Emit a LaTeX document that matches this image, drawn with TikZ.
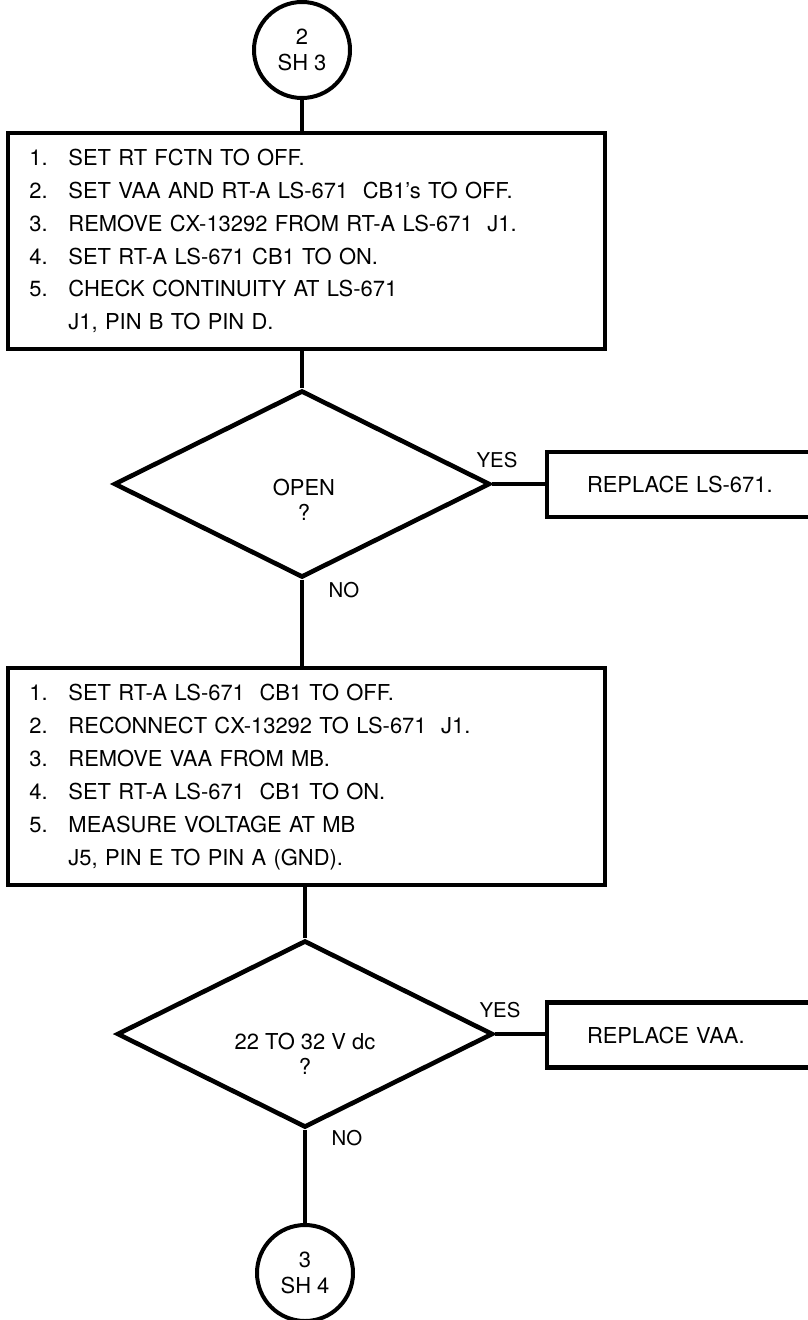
\documentclass[tikz,border=0pt]{standalone}
\usepackage{fontspec}
\setmainfont{TeX Gyre Heros}
\usetikzlibrary{shapes.geometric,calc}
\newcommand\steplist[1]{\begin{tabular}{@{}p{9.75mm}@{}l@{}}#1\end{tabular}}
\tikzset{every picture/.style={line width=1.15mm},
  every node/.style={font=\fontsize{15.6}{23.4}\selectfont},
  conn/.style={draw,circle,minimum size=24mm,inner sep=0pt,line width=1mm,align=center,
    font=\fontsize{15.6}{19}\selectfont},
  stepbox/.style={draw,rectangle,minimum width=149.25mm,text width=138.5mm,inner xsep=5.375mm,align=left},
  decision/.style={draw,diamond,minimum width=94mm,minimum height=46.75mm,inner sep=0pt},
  qtext/.style={align=center,font=\fontsize{15.6}{17.5}\selectfont},
  fixbox/.style={draw,rectangle,minimum width=72mm,minimum height=16.25mm,text width=52mm,
    inner xsep=10mm,align=left},
  answer/.style={font=\fontsize{14.5}{17}\selectfont,inner sep=0pt}}

\begin{document}
\begin{tikzpicture}[x=.25mm,y=-.25mm,line width=1.15mm]
\useasboundingbox (0,0) rectangle (807,1320);
\node[conn](c2)at(302,50){2\\SH 3};
\node[stepbox,minimum height=54mm](s1)at(306.5,241){\steplist{
1.&SET RT FCTN TO OFF.\\
2.&SET VAA AND RT-A LS-671~~CB1's TO OFF.\\
3.&REMOVE CX-13292 FROM RT-A LS-671~~J1.\\
4.&SET RT-A LS-671 CB1 TO ON.\\
5.&CHECK CONTINUITY AT LS-671\\
&J1, PIN B TO PIN D.}};
\node[decision](d1)at(302,484){};\node[qtext](q1)at(304,500){OPEN\\?};
\node[fixbox](r1)at(691,484.5){REPLACE LS-671.};
\node[answer](y1)at(497,460){YES};\node[answer](n1)at(344,590){NO};
\node[stepbox,minimum height=54.25mm](s2)at(306.5,776.5){\steplist{
1.&SET RT-A LS-671~~CB1 TO OFF.\\
2.&RECONNECT CX-13292 TO LS-671~~J1.\\
3.&REMOVE VAA FROM MB.\\
4.&SET RT-A LS-671~~CB1 TO ON.\\
5.&MEASURE VOLTAGE AT MB\\
&J5, PIN E TO PIN A (GND).}};
\node[decision](d2)at(305,1034){};\node[qtext](q2)at(305,1054){22 TO 32 V dc\\?};
\node[fixbox](r2)at(691,1035){REPLACE VAA.};
\node[answer](y2)at(500,1010){YES};\node[answer](n2)at(347,1138){NO};
\node[conn](c3)at(305,1273){3\\SH 4};
% flow lines
\draw(c2)--(c2.south|-s1.north);
\draw(s1.south-|d1.north)--(d1.north);
\draw(d1.east)--(d1.east-|r1.west);
\draw(d1.south)--(d1.south|-s2.north);
\draw(s2.south-|d2.north)--(d2.north);
\draw(d2.east)--(d2.east-|r2.west);
\draw(d2.south)--(c3);
\end{tikzpicture}
\end{document}
